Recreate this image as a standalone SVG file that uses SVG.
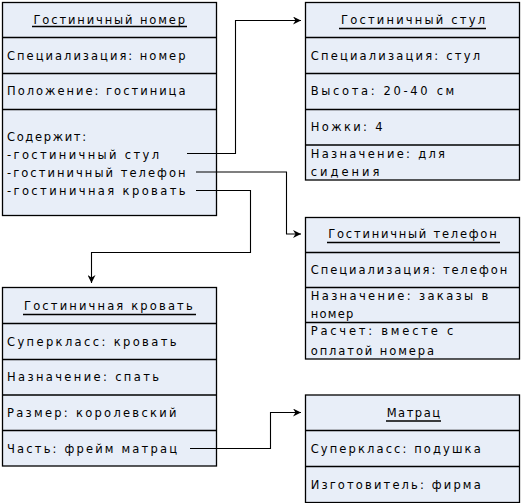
<svg xmlns="http://www.w3.org/2000/svg" width="521" height="503" viewBox="0 0 521 503">
<defs>
<style>
.box{fill:#e8eef8;stroke:#000;stroke-width:1.3}
.div{stroke:#000;stroke-width:1.3}
.t{font-family:"DejaVu Sans",sans-serif;font-size:11.5px;fill:#000}
.u{stroke:#000;stroke-width:1.3}
.c{fill:none;stroke:#000;stroke-width:1.1}
</style>
<marker id="ar" viewBox="0 0 8 8" refX="8" refY="4" markerWidth="8" markerHeight="8" markerUnits="userSpaceOnUse" orient="auto">
<path d="M0,0 L8,4 L0,8 L2.5,4 Z" fill="#000"/>
</marker>
</defs>
<g id="node-nomer">
<rect class="box" x="2.5" y="2.5" width="214" height="213"/>
<line class="div" x1="2.5" y1="37.5" x2="216.5" y2="37.5"/>
<line class="div" x1="2.5" y1="73.5" x2="216.5" y2="73.5"/>
<line class="div" x1="2.5" y1="109.5" x2="216.5" y2="109.5"/>
<text class="t" x="33.5" y="24" textLength="151.5" lengthAdjust="spacing">Гостиничный номер</text>
<line class="u" x1="32" y1="26.5" x2="187" y2="26.5"/>
<text class="t" x="7" y="60" textLength="178.5" lengthAdjust="spacing">Специализация: номер</text>
<text class="t" x="7" y="95" textLength="178.5" lengthAdjust="spacing">Положение: гостиница</text>
<text class="t" x="7" y="141" textLength="79" lengthAdjust="spacing">Содержит:</text>
<text class="t" x="7" y="159" textLength="152" lengthAdjust="spacing">-гостиничный стул</text>
<text class="t" x="7" y="177" textLength="178.5" lengthAdjust="spacing">-гостиничный телефон</text>
<text class="t" x="7" y="195" textLength="178.5" lengthAdjust="spacing">-гостиничная кровать</text>
</g>
<g id="node-stul">
<rect class="box" x="305.5" y="2.5" width="214" height="177.5"/>
<line class="div" x1="305.5" y1="37.5" x2="519.5" y2="37.5"/>
<line class="div" x1="305.5" y1="73.5" x2="519.5" y2="73.5"/>
<line class="div" x1="305.5" y1="109.5" x2="519.5" y2="109.5"/>
<line class="div" x1="305.5" y1="145" x2="519.5" y2="145"/>
<text class="t" x="341" y="24" textLength="144" lengthAdjust="spacing">Гостиничный стул</text>
<line class="u" x1="339" y1="28.5" x2="486" y2="28.5"/>
<text class="t" x="310.7" y="60" textLength="169.3" lengthAdjust="spacing">Специализация: стул</text>
<text class="t" x="310.7" y="95" textLength="143.6" lengthAdjust="spacing">Высота: 20-40 см</text>
<text class="t" x="310.7" y="131" textLength="72" lengthAdjust="spacing">Ножки: 4</text>
<text class="t" x="310.7" y="158" textLength="134.3" lengthAdjust="spacing">Назначение: для</text>
<text class="t" x="310.7" y="176" textLength="68.6" lengthAdjust="spacing">сидения</text>
</g>
<g id="node-telefon">
<rect class="box" x="305.5" y="217.5" width="214" height="141.5"/>
<line class="div" x1="305.5" y1="252.5" x2="519.5" y2="252.5"/>
<line class="div" x1="305.5" y1="287.5" x2="519.5" y2="287.5"/>
<line class="div" x1="305.5" y1="322.5" x2="519.5" y2="322.5"/>
<text class="t" x="328.3" y="238" textLength="168.4" lengthAdjust="spacing">Гостиничный телефон</text>
<line class="u" x1="327" y1="242.5" x2="500" y2="242.5"/>
<text class="t" x="310.7" y="274" textLength="196.6" lengthAdjust="spacing">Специализация: телефон</text>
<text class="t" x="310.7" y="300" textLength="177.6" lengthAdjust="spacing">Назначение: заказы в</text>
<text class="t" x="310.7" y="318" textLength="42.6" lengthAdjust="spacing">номер</text>
<text class="t" x="310.7" y="335" textLength="142.6" lengthAdjust="spacing">Расчет: вместе с</text>
<text class="t" x="310.7" y="355" textLength="123.3" lengthAdjust="spacing">оплатой номера</text>
</g>
<g id="node-krovat">
<rect class="box" x="2.5" y="287.5" width="214" height="178.5"/>
<line class="div" x1="2.5" y1="323.5" x2="216.5" y2="323.5"/>
<line class="div" x1="2.5" y1="359.5" x2="216.5" y2="359.5"/>
<line class="div" x1="2.5" y1="395" x2="216.5" y2="395"/>
<line class="div" x1="2.5" y1="430.5" x2="216.5" y2="430.5"/>
<text class="t" x="24" y="310" textLength="168.7" lengthAdjust="spacing">Гостиничная кровать</text>
<line class="u" x1="23" y1="314.5" x2="196" y2="314.5"/>
<text class="t" x="7" y="346" textLength="169.5" lengthAdjust="spacing">Суперкласс: кровать</text>
<text class="t" x="7" y="381" textLength="152" lengthAdjust="spacing">Назначение: спать</text>
<text class="t" x="7" y="417" textLength="169.5" lengthAdjust="spacing">Размер: королевский</text>
<text class="t" x="7" y="453" textLength="170" lengthAdjust="spacing">Часть: фрейм матрац</text>
</g>
<g id="node-matrac">
<rect class="box" x="305.5" y="395" width="214" height="107.5"/>
<line class="div" x1="305.5" y1="430.5" x2="519.5" y2="430.5"/>
<line class="div" x1="305.5" y1="466.5" x2="519.5" y2="466.5"/>
<text class="t" x="386.7" y="417" textLength="53.3" lengthAdjust="spacing">Матрац</text>
<line class="u" x1="386" y1="421" x2="441" y2="421"/>
<text class="t" x="310.7" y="453" textLength="170" lengthAdjust="spacing">Суперкласс: подушка</text>
<text class="t" x="310.7" y="489" textLength="170" lengthAdjust="spacing">Изготовитель: фирма</text>
</g>
<g id="connectors">
<path class="c" d="M187,153.5 H235.5 V20.5 H301" marker-end="url(#ar)"/>
<path class="c" d="M196,172 H286.5 V234 H301" marker-end="url(#ar)"/>
<path class="c" d="M196,190.5 H250.5 V252.5 H91.5 V283" marker-end="url(#ar)"/>
<path class="c" d="M190,448.5 H270.5 V412.5 H301" marker-end="url(#ar)"/>
</g>
</svg>
